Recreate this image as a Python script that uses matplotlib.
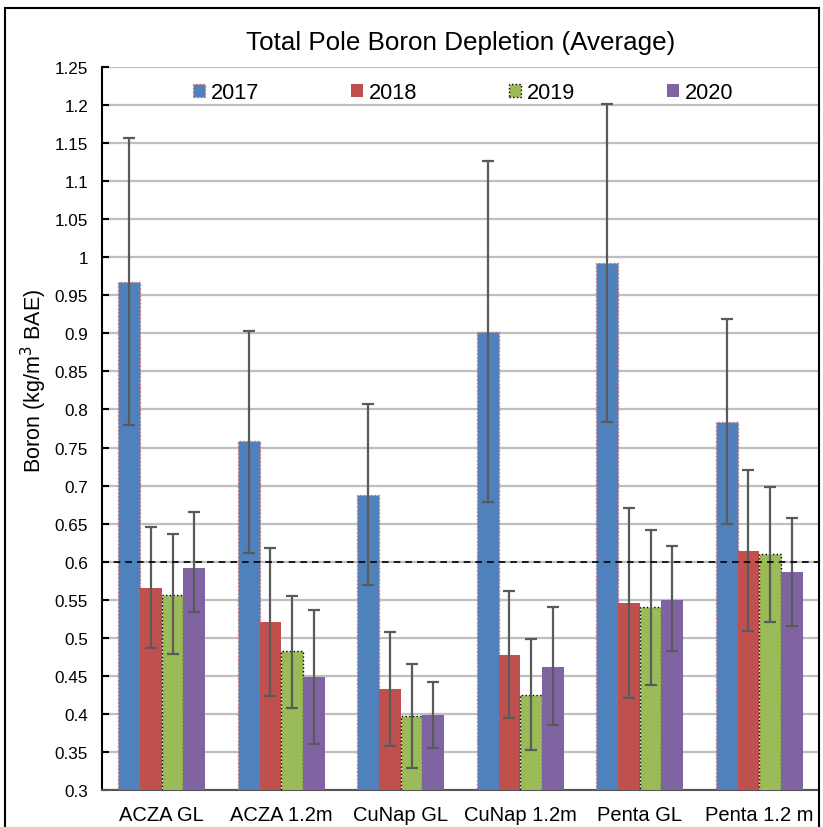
import matplotlib
matplotlib.use("Agg")
import matplotlib.pyplot as plt
import numpy as np
from matplotlib.patches import Rectangle

plt.rcParams['font.family'] = ['Liberation Sans', 'DejaVu Sans']

categories = ["ACZA GL", "ACZA 1.2m", "CuNap GL", "CuNap 1.2m", "Penta GL", "Penta 1.2 m"]
years = ["2017", "2018", "2019", "2020"]

v2017 = [0.967, 0.758, 0.687, 0.902, 0.992, 0.784]
v2018 = [0.565, 0.521, 0.433, 0.478, 0.546, 0.614]
v2019 = [0.556, 0.482, 0.397, 0.425, 0.540, 0.610]
v2020 = [0.592, 0.448, 0.398, 0.462, 0.550, 0.586]

hi2017 = [1.157, 0.903, 0.807, 1.126, 1.201, 0.919]
lo2017 = [0.779, 0.611, 0.569, 0.678, 0.783, 0.650]
hi2018 = [0.645, 0.618, 0.507, 0.562, 0.670, 0.721]
lo2018 = [0.486, 0.423, 0.358, 0.395, 0.421, 0.509]
hi2019 = [0.637, 0.555, 0.465, 0.498, 0.642, 0.698]
lo2019 = [0.479, 0.408, 0.329, 0.352, 0.438, 0.521]
hi2020 = [0.665, 0.536, 0.442, 0.541, 0.620, 0.657]
lo2020 = [0.534, 0.361, 0.355, 0.385, 0.482, 0.515]

threshold = 0.6

values = [v2017, v2018, v2019, v2020]
highs = [hi2017, hi2018, hi2019, hi2020]
lows = [lo2017, lo2018, lo2019, lo2020]
colors = ["#4F81BD", "#C0504D", "#9BBB59", "#8064A2"]
edges = ["#E06666", "none", "#000000", "none"]
styles = [":", "-", ":", "-"]

fig = plt.figure(figsize=(8.23, 8.28), dpi=100)
ax = fig.add_axes([102/823, 1-791/828, (819-102)/823, (791-68)/828])

x = np.arange(len(categories))
w = 0.182
for i in range(4):
    vals = np.array(values[i])
    yerr = np.array([vals - np.array(lows[i]), np.array(highs[i]) - vals])
    ax.bar(x + (i - 1.5) * w, vals, w, bottom=0, color=colors[i],
           edgecolor=edges[i], linestyle=styles[i], linewidth=1.0 if edges[i] != "none" else 0,
           label=years[i], zorder=3)
    ax.errorbar(x + (i - 1.5) * w, vals, yerr=yerr, fmt="none", ecolor="#5a5a5a",
                elinewidth=1.6, capsize=4, capthick=1.6, zorder=4)

ax.axhline(threshold, color="black", linestyle=(0, (4, 3)), linewidth=1.2, zorder=5)

ax.set_xlim(-0.5, len(categories) - 0.5)
ax.set_ylim(0.3, 1.25)
ax.set_yticks(np.arange(0.3, 1.2501, 0.05))
ax.set_yticklabels([f"{t:.2f}".rstrip("0").rstrip(".") for t in np.arange(0.3, 1.2501, 0.05)])
ax.set_xticks(x)
ax.set_xticklabels(categories, fontsize=14.5)
ax.tick_params(axis="x", length=0, pad=11)
ax.tick_params(axis="y", direction="in", length=5, width=1.5, labelsize=12.3, pad=10)
ax.yaxis.grid(True, color="#BFBFBF", linewidth=1.6, zorder=0)
ax.set_axisbelow(True)
for s in ["top", "right"]:
    ax.spines[s].set_visible(False)
ax.spines["left"].set_linewidth(1.5)
ax.spines["bottom"].set_color("#555555")
ax.spines["bottom"].set_linewidth(1.5)

ax.set_ylabel("Boron (kg/m$^3$ BAE)", fontsize=15.5)
ax.yaxis.set_label_coords(-0.074, 0.567)
ax.set_title("Total Pole Boron Depletion (Average)", fontsize=18.7, pad=13)

leg = ax.legend(loc="upper center", bbox_to_anchor=(0.5035, 1.0), ncol=4, frameon=False,
                fontsize=15.7, handlelength=0.55, handleheight=0.55, handletextpad=0.28,
                columnspacing=4.2, borderaxespad=0.3)

fig.patches.append(Rectangle((5/823, -0.1), (819-5)/823, 1.1 - 9/828, transform=fig.transFigure,
                             fill=False, edgecolor="black", linewidth=1.5))

fig.savefig("out.png", dpi=100)
